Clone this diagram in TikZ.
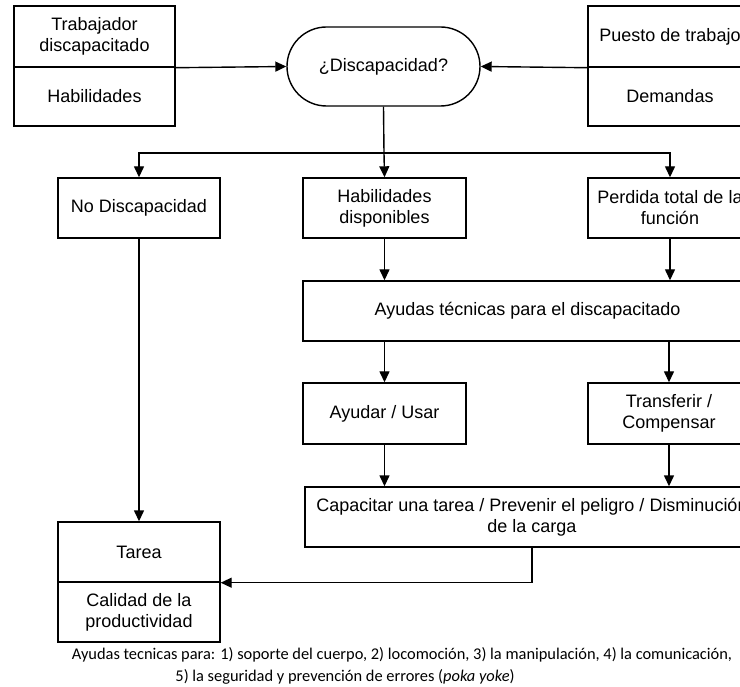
\documentclass[tikz,border=0pt]{standalone}
\usepackage{fontspec}
\setmainfont{Liberation Sans}
\newfontfamily\capfont{Carlito}
\usetikzlibrary{arrows.meta,shapes.misc}

\begin{document}
\begin{tikzpicture}[x=1pt,y=-1pt]
\tikzset{B/.style={draw,line width=1.4pt,align=center,inner sep=0pt,
    font=\fontsize{18}{21}\selectfont},
  A/.style={line width=1.4pt,-{Triangle[length=11pt,width=10pt]}},
  L/.style={line width=1.4pt},
  N/.style={inner sep=0pt,font=\capfont\fontsize{16.4}{19}\selectfont}}

 \useasboundingbox (0,0) rectangle (740,687);
 \clip (0,0) rectangle (740,687);

  % entradas
  \node[B,minimum width=161,minimum height=61] (trab1) at (94.5,36.5) {Trabajador\\discapacitado};
  \node[B,minimum width=161,minimum height=59] (trab2) at (94.5,96.5) {Habilidades};
  \node[B,rounded rectangle,minimum width=193,minimum height=79] (disc) at (383.5,66.5) {¿Discapacidad?};
  \node[B,minimum width=164,minimum height=61] (pues1) at (670,36.5) {Puesto de trabajo};
  \node[B,minimum width=164,minimum height=59] (pues2) at (670,96.5) {Demandas};

  % ramas
  \node[B,minimum width=162,minimum height=60] (nodis) at (139,208) {No Discapacidad};
  \node[B,minimum width=163,minimum height=60] (habil) at (384.5,208) {Habilidades\\disponibles};
  \node[B,minimum width=164,minimum height=60] (perd) at (670,208) {Perdida total de la\\función};
  \node[B,minimum width=449,minimum height=60] (ayud) at (527.5,311) {Ayudas técnicas para el discapacitado};
  \node[B,minimum width=163,minimum height=61] (ayudar) at (384.5,413.5) {Ayudar / Usar};
  \node[B,minimum width=162,minimum height=61] (transf) at (669,413.5) {Transferir /\\Compensar};
  \node[B,minimum width=454,minimum height=60] (capac) at (532,517) {Capacitar una tarea / Prevenir el peligro / Disminución\\de la carga};

  % salida
  \node[B,minimum width=162,minimum height=60] (tarea1) at (139,552) {Tarea};
  \node[B,minimum width=162,minimum height=60] (tarea2) at (139,612) {Calidad de la\\productividad};

  \coordinate (split) at (384,153);

  \draw[A] (trab1.south east) -- (disc.west);
  \draw[A] (pues1.south west) -- (disc.east);
  \draw[L] (disc.south) -- (split);
  \draw[A] (split) -| (nodis.north);
  \draw[A] (split) -- (habil.north);
  \draw[A] (split) -| (perd.north);
  \draw[A] (habil.south) -- (habil.south |- ayud.north);
  \draw[A] (perd.south) -- (perd.south |- ayud.north);
  \draw[A] (ayudar.north |- ayud.south) -- (ayudar.north);
  \draw[A] (transf.north |- ayud.south) -- (transf.north);
  \draw[A] (ayudar.south) -- (ayudar.south |- capac.north);
  \draw[A] (transf.south) -- (transf.south |- capac.north);
  \draw[A] (nodis.south) -- (tarea1.north);
  \draw[A] (capac.south) |- (tarea1.south east);

  % nota
  \node[N] (nota1) at (402,655)
    {Ayudas tecnicas para: 1) soporte del cuerpo, 2) locomoción, 3) la manipulación, 4) la comunicación,};
  \node[N] (nota2) at (345,677)
    {5) la seguridad y prevención de errores (\emph{poka yoke})};
\end{tikzpicture}
\end{document}
